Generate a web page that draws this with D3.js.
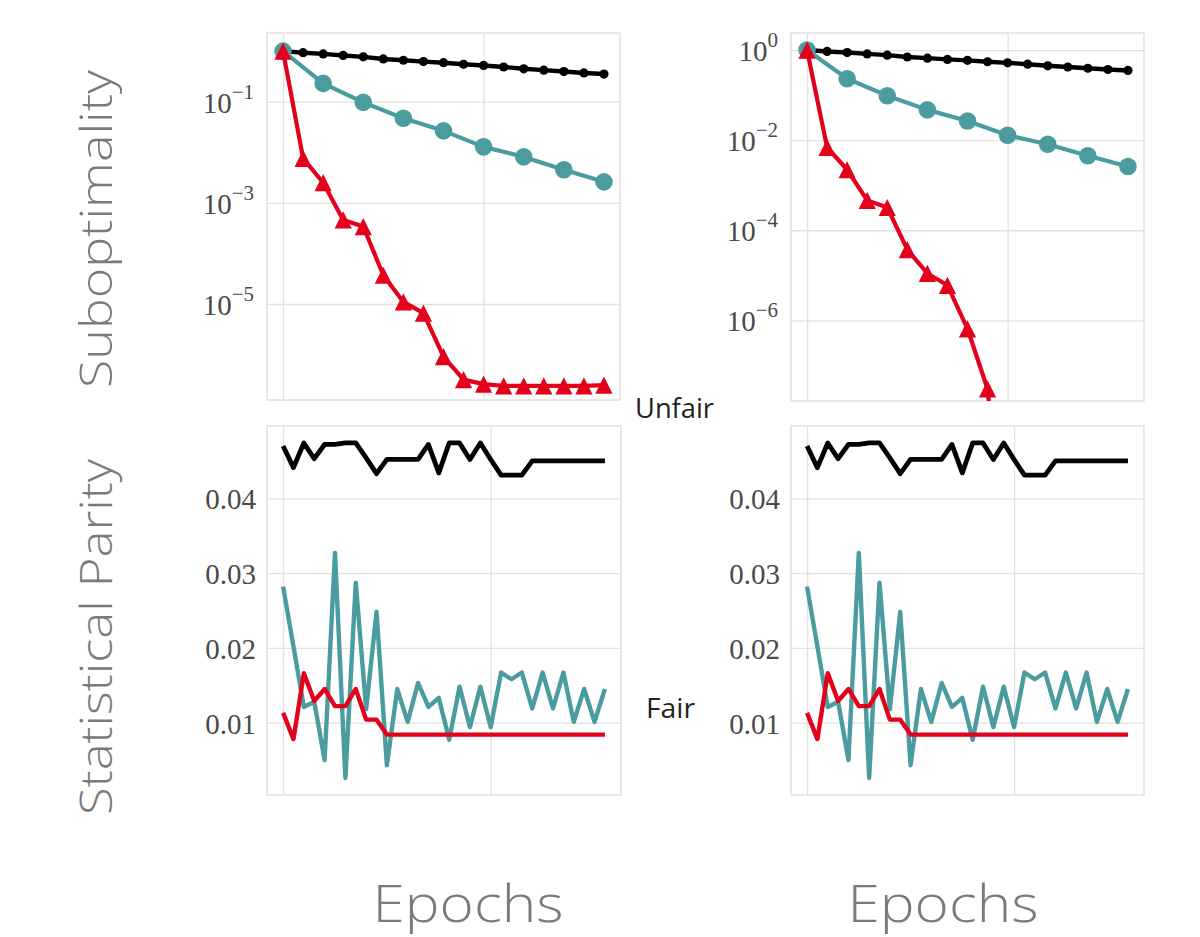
<!DOCTYPE html>
<html>
<head>
<meta charset="utf-8">
<script src="https://cdn.jsdelivr.net/npm/d3@7"></script>
<style>
	body { margin: 0; background: #fff; }
	svg { display: block; }
</style>
</head>
<body>
<script>
// ---- data ----
var topEpochs = [0, 1, 2, 3, 4, 5, 6, 7, 8, 9, 10, 11, 12, 13, 14, 15, 16];
var tealEpochs = [0, 2, 4, 6, 8, 10, 12, 14, 16];
var redRightEpochs = [0, 1, 2, 3, 4, 5, 6, 7, 8, 9, 10];
var bottomEpochs = [0, 1, 2, 3, 4, 5, 6, 7, 8, 9, 10, 11, 12, 13, 14, 15,
	16, 17, 18, 19, 20, 21, 22, 23, 24, 25, 26, 27, 28, 29, 30, 31];

var blackSubopt = [1.0, 0.93, 0.88, 0.82, 0.77, 0.70, 0.66, 0.62, 0.59, 0.55, 0.52, 0.485, 0.447, 0.42, 0.394, 0.37, 0.352];
var tealSubopt = [1.0, 0.23, 0.097, 0.047, 0.0265, 0.0128, 0.0081, 0.0045, 0.0026];
var redSuboptLeft = [1.0, 0.0076, 0.0025, 4.6e-4, 3.4e-4, 3.7e-5, 1.1e-5, 6.6e-6, 9.1e-7, 3.2e-7,
	2.6e-7, 2.4e-7, 2.4e-7, 2.4e-7, 2.4e-7, 2.4e-7, 2.5e-7];
var redSuboptRight = [1.0, 0.0069, 0.0022, 4.6e-4, 3.2e-4, 3.7e-5, 1.1e-5, 6.0e-6, 6.5e-7, 3.0e-8, 1e-12];

var blackParity = [0.0470, 0.0441, 0.0474, 0.0453, 0.0472, 0.0472, 0.0474, 0.0474, 0.0454, 0.0433,
	0.0452, 0.0452, 0.0452, 0.0452, 0.0472, 0.0434, 0.0474, 0.0474, 0.0452, 0.0474,
	0.0452, 0.0431, 0.0431, 0.0431, 0.0450, 0.0450, 0.0450, 0.0450, 0.0450, 0.0450, 0.0450, 0.0450];
var tealParity = [0.0282, 0.0202, 0.0121, 0.0128, 0.0050, 0.0327, 0.0026, 0.0287, 0.0118, 0.0248,
	0.0043, 0.0145, 0.0101, 0.0153, 0.0121, 0.0133, 0.0077, 0.0148, 0.0094, 0.0148,
	0.0094, 0.0167, 0.0158, 0.0167, 0.0119, 0.0167, 0.0119, 0.0167, 0.0101, 0.0145, 0.0101, 0.0145];
var redParity = [0.0113, 0.0078, 0.0166, 0.0129, 0.0145, 0.0122, 0.0122, 0.0145, 0.0104, 0.0104,
	0.0084, 0.0084, 0.0084, 0.0084, 0.0084, 0.0084, 0.0084, 0.0084, 0.0084, 0.0084,
	0.0084, 0.0084, 0.0084, 0.0084, 0.0084, 0.0084, 0.0084, 0.0084, 0.0084, 0.0084, 0.0084, 0.0084];

var topXTicks = [0, 10];
var bottomXTicks = [0, 20];
var leftLogTicks = [1e-1, 1e-3, 1e-5];
var rightLogTicks = [1e0, 1e-2, 1e-4, 1e-6];
var parityTicks = [0.01, 0.02, 0.03, 0.04];

// ---- style ----
var BLACK = "#000", TEAL = "#4a9c9f", RED = "#e4001b";
var GRID = "#e1e1e1";

var W = 1200, H = 937;
var svg = d3.select("body").append("svg").attr("width", W).attr("height", H);

function zip(xs, ys) {
	return xs.map(function (x, i) { return { x: x, y: ys[i] }; });
}

var panels = [
	{ id: "tl", x: 267, y: 33, w: 353, h: 367, log: true, xdom: [-0.8, 16.8], ydom: [Math.pow(10, -6.898), Math.pow(10, 0.358)],
		xticks: topXTicks, yticks: leftLogTicks, pad: 13,
		series: [
			{ data: zip(topEpochs, blackSubopt), color: BLACK, lw: 4.4, marker: "dot" },
			{ data: zip(tealEpochs, tealSubopt), color: TEAL, lw: 4.2, marker: "circle" },
			{ data: zip(topEpochs, redSuboptLeft), color: RED, lw: 4.2, marker: "tri" }
		] },
	{ id: "tr", x: 791, y: 33, w: 353, h: 368, log: true, xdom: [-0.8, 16.8], ydom: [Math.pow(10, -7.79), Math.pow(10, 0.378)],
		xticks: topXTicks, yticks: rightLogTicks, pad: 13,
		series: [
			{ data: zip(topEpochs, blackSubopt), color: BLACK, lw: 4.4, marker: "dot" },
			{ data: zip(tealEpochs, tealSubopt), color: TEAL, lw: 4.2, marker: "circle" },
			{ data: zip(redRightEpochs, redSuboptRight), color: RED, lw: 4.2, marker: "tri" }
		] },
	{ id: "bl", x: 267, y: 426, w: 354, h: 369, log: false, xdom: [-1.55, 32.55], ydom: [0.00032, 0.04967],
		xticks: bottomXTicks, yticks: parityTicks, pad: 11,
		series: [
			{ data: zip(bottomEpochs, blackParity), color: BLACK, lw: 4.8 },
			{ data: zip(bottomEpochs, tealParity), color: TEAL, lw: 4.4 },
			{ data: zip(bottomEpochs, redParity), color: RED, lw: 4.4 }
		] },
	{ id: "br", x: 791, y: 426, w: 353, h: 369, log: false, xdom: [-1.55, 32.55], ydom: [0.00032, 0.04967],
		xticks: bottomXTicks, yticks: parityTicks, pad: 11,
		series: [
			{ data: zip(bottomEpochs, blackParity), color: BLACK, lw: 4.8 },
			{ data: zip(bottomEpochs, tealParity), color: TEAL, lw: 4.4 },
			{ data: zip(bottomEpochs, redParity), color: RED, lw: 4.4 }
		] }
];

var supDigits = function (e) { return (e < 0 ? "\u2212" : "") + Math.abs(e); };

panels.forEach(function (p) {
	var g = svg.append("g").attr("transform", "translate(" + p.x + "," + p.y + ")");
	var x = d3.scaleLinear().domain(p.xdom).range([0, p.w]);
	var y = (p.log ? d3.scaleLog() : d3.scaleLinear()).domain(p.ydom).range([p.h, 0]);

	// vertical grid
	g.append("g")
		.attr("transform", "translate(0," + p.h + ")")
		.call(d3.axisBottom(x).tickValues(p.xticks).tickSize(-p.h).tickFormat(""))
		.call(function (a) {
			a.select(".domain").remove();
			a.selectAll("line").attr("stroke", GRID).attr("stroke-width", 1.3);
		});

	// horizontal grid + tick labels
	var yAxis = g.append("g")
		.call(d3.axisLeft(y).tickValues(p.yticks).tickSize(-p.w).tickPadding(p.pad)
			.tickFormat(function (d) { return p.log ? "" : d3.format(".2f")(d); }));
	yAxis.select(".domain").remove();
	yAxis.selectAll("line").attr("stroke", GRID).attr("stroke-width", 1.3);
	yAxis.selectAll("text")
		.attr("fill", "#4a4a4a")
		.attr("font-family", "'Liberation Serif', 'DejaVu Serif', serif")
		.attr("font-size", 29)
		.attr("dy", "0.36em");

	if (p.log) {
		yAxis.selectAll("text").each(function (d) {
			var t = d3.select(this);
			var e = Math.round(Math.log10(d));
			t.append("tspan").text("10");
			t.append("tspan").attr("dy", -14).attr("font-size", 21).text(supDigits(e));
		});
	}

	// frame
	g.append("rect").attr("width", p.w).attr("height", p.h)
		.attr("fill", "none").attr("stroke", GRID).attr("stroke-width", 1.5);

	// clip
	svg.append("clipPath").attr("id", "clip-" + p.id)
		.append("rect").attr("width", p.w).attr("height", p.h);
	var plot = g.append("g").attr("clip-path", "url(#clip-" + p.id + ")");

	var line = d3.line()
		.x(function (d) { return x(d.x); })
		.y(function (d) { return y(d.y); });

	p.series.forEach(function (s) {
		plot.append("path").datum(s.data)
			.attr("d", line)
			.attr("fill", "none")
			.attr("stroke", s.color)
			.attr("stroke-width", s.lw)
			.attr("stroke-linejoin", "round");

		if (s.marker === "dot" || s.marker === "circle") {
			plot.selectAll(null).data(s.data).enter().append("circle")
				.attr("cx", function (d) { return x(d.x); })
				.attr("cy", function (d) { return y(d.y); })
				.attr("r", s.marker === "dot" ? 4.6 : 8.8)
				.attr("fill", s.color);
		} else if (s.marker === "tri") {
			var r = 8.6;
			plot.selectAll(null).data(s.data).enter().append("path")
				.attr("transform", function (d) { return "translate(" + x(d.x) + "," + y(d.y) + ")"; })
				.attr("d", "M0," + (-r) + "L" + r + "," + r + "L" + (-r) + "," + r + "Z")
				.attr("fill", s.color);
		}
	});
});

// ---- labels ----
var sans = "'Open Sans', Lato, sans-serif";

svg.append("text")
	.attr("transform", "translate(112,229) rotate(-90)")
	.attr("text-anchor", "middle")
	.attr("font-family", sans).attr("font-weight", 300)
	.attr("font-size", 45).attr("fill", "#7a7a7a")
	.attr("textLength", 318).attr("lengthAdjust", "spacingAndGlyphs")
	.text("Suboptimality");

svg.append("text")
	.attr("transform", "translate(112,637) rotate(-90)")
	.attr("text-anchor", "middle")
	.attr("font-family", sans).attr("font-weight", 300)
	.attr("font-size", 45).attr("fill", "#7a7a7a")
	.attr("textLength", 356).attr("lengthAdjust", "spacingAndGlyphs")
	.text("Statistical Parity");

[468, 943].forEach(function (cx) {
	svg.append("text")
		.attr("x", cx).attr("y", 922)
		.attr("text-anchor", "middle")
		.attr("font-family", sans).attr("font-weight", 300)
		.attr("font-size", 52).attr("fill", "#7a7a7a")
		.attr("textLength", 191).attr("lengthAdjust", "spacingAndGlyphs")
		.text("Epochs");
});

svg.append("text")
	.attr("x", 635).attr("y", 418)
	.attr("font-family", sans).attr("font-size", 27).attr("fill", "#222")
	.attr("textLength", 79).attr("lengthAdjust", "spacingAndGlyphs")
	.text("Unfair");

svg.append("text")
	.attr("x", 646).attr("y", 718)
	.attr("font-family", sans).attr("font-size", 28).attr("fill", "#222")
	.attr("textLength", 49).attr("lengthAdjust", "spacingAndGlyphs")
	.text("Fair");
</script>
</body>
</html>
